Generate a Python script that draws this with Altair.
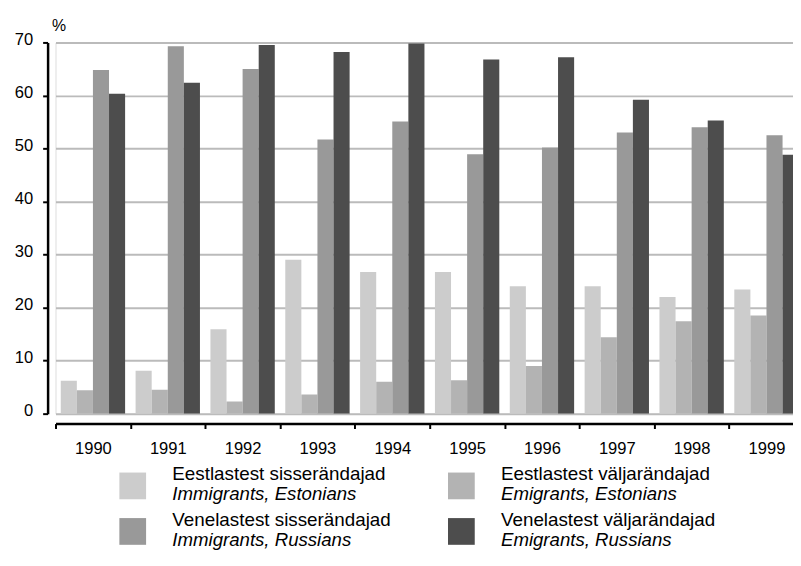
import altair as alt
import pandas as pd

years = ["1990", "1991", "1992", "1993", "1994", "1995", "1996", "1997", "1998", "1999"]
series = ["Eestlastest sisserändajad", "Eestlastest väljarändajad",
          "Venelastest sisserändajad", "Venelastest väljarändajad"]
series_en = ["Immigrants, Estonians", "Emigrants, Estonians",
             "Immigrants, Russians", "Emigrants, Russians"]
colors = ["#cccccc", "#b3b3b3", "#999999", "#4d4d4d"]

eest_siss = [6.2, 8.1, 15.9, 29.0, 26.7, 26.7, 24.0, 24.0, 22.0, 23.4]
eest_valj = [4.4, 4.5, 2.3, 3.6, 6.0, 6.3, 9.0, 14.4, 17.4, 18.5]
ven_siss = [64.8, 69.3, 65.0, 51.7, 55.1, 48.9, 50.2, 53.0, 54.0, 52.5]
ven_valj = [60.3, 62.4, 69.5, 68.2, 69.8, 66.8, 67.2, 59.2, 55.3, 48.8]
y_ticks = [0, 10, 20, 30, 40, 50, 60, 70]

rows = []
for i, yr in enumerate(years):
    for s, vals in zip(series, [eest_siss, eest_valj, ven_siss, ven_valj]):
        rows.append({"year": yr, "series": s, "value": vals[i]})
df = pd.DataFrame(rows)

legend_df = pd.DataFrame({"series": series, "en": series_en,
                          "col": [0, 1, 0, 1], "row": [0, 0, 1, 1]})

FONT = "Liberation Sans"
color = alt.Color("series:N", scale=alt.Scale(domain=series, range=colors), legend=None)

bars = alt.Chart(df).mark_bar(clip=True).encode(
    x=alt.X("year:N", sort=years,
            scale=alt.Scale(paddingInner=0, paddingOuter=0, range=[0, 756]),
            axis=alt.Axis(title=None, labelAngle=0, tickBand="extent", offset=10,
                          domainColor="black", domainWidth=2.5, tickColor="black",
                          tickWidth=2, tickSize=5, labelFontSize=16.7, labelPadding=12,
                          labelColor="black", grid=False)),
    xOffset=alt.XOffset("series:N", sort=series,
                        scale=alt.Scale(paddingInner=0, paddingOuter=0.326)),
    y=alt.Y("value:Q", scale=alt.Scale(domain=[0, 70], nice=False),
            axis=alt.Axis(values=y_ticks, title="%", titleAngle=0, titleAlign="left",
                          titleBaseline="alphabetic", titleX=4, titleY=-12,
                          titleFontSize=16, titleFontWeight="normal", titleColor="black",
                          offset=8, domainColor="black", domainWidth=2.5,
                          tickColor="black", tickWidth=2, tickSize=5,
                          labelFontSize=16.7, labelPadding=10, labelColor="black",
                          labelOffset=-3,
                          grid=True, gridColor="#bbbbbb", gridWidth=2)),
    color=color,
)

lx = alt.X("col:Q", scale=alt.Scale(domain=[0, 1], range=[78, 410]), axis=None)
ly = alt.Y("row:Q", scale=alt.Scale(domain=[0, 1], range=[448, 494]), axis=None)

sq = alt.Chart(legend_df).mark_square(size=729, opacity=1).encode(x=lx, y=ly, color=color)
t1 = alt.Chart(legend_df).mark_text(align="left", baseline="alphabetic", dx=40, dy=-6,
                                    fontSize=19, color="black").encode(
    x=lx, y=ly, text="series:N")
t2 = alt.Chart(legend_df).mark_text(align="left", baseline="alphabetic", dx=40, dy=14.5,
                                    fontSize=18.8, fontStyle="italic", color="black").encode(
    x=lx, y=ly, text="en:N")

chart = alt.layer(bars, sq, t1, t2).resolve_scale(
    x="independent", y="independent"
).properties(
    width=745, height=375,
    autosize=alt.AutoSizeParams(type="none"),
    padding={"left": 48, "top": 32, "right": 0, "bottom": 139},
).configure_view(stroke=None).configure(font=FONT)

chart.save("out.html", embed_options={"renderer": "svg", "actions": False})
